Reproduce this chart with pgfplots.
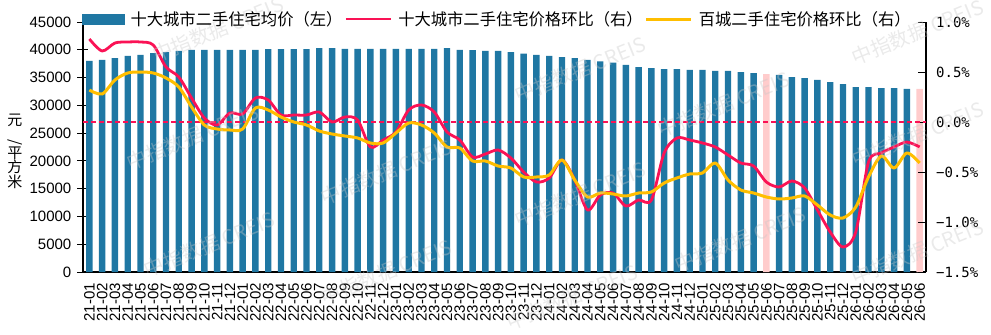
\documentclass[border=0pt]{standalone}
\usepackage{pgfplots}
\usepackage{pgfplotstable}
\pgfplotsset{compat=1.18}
\usepackage{graphicx}
\usepackage{fontspec}
\setmainfont{Liberation Sans}
\newfontfamily\cjk{Noto Sans CJK SC}
\newfontfamily\monofont{DejaVu Sans Mono}

\definecolor{barblue}{RGB}{31,119,163}
\definecolor{barpink}{RGB}{255,204,204}
\definecolor{linered}{RGB}{250,18,85}
\definecolor{lineyellow}{RGB}{255,190,0}
\definecolor{wmgray}{RGB}{200,200,200}

\tikzset{watermark/.style={rotate=22, text=wmgray, opacity=0.38,
    font=\cjk\fontsize{20bp}{20bp}\selectfont}}

% average second-hand price, ten cities (yuan per square metre)
\pgfplotstableread{
idx price
0 38000
1 38200
2 38500
3 38900
4 39100
5 39400
6 39600
7 39800
8 40000
9 40000
10 40000
11 40000
12 40000
13 40000
14 40100
15 40100
16 40100
17 40100
18 40300
19 40300
20 40150
21 40150
22 40150
23 40150
24 40150
25 40150
26 40150
27 40150
28 40300
29 40000
30 39950
31 39800
32 39800
33 39600
34 39300
35 39100
36 38900
37 38700
38 38500
39 38200
40 37900
41 37700
42 37300
43 36900
44 36700
45 36500
46 36500
47 36400
48 36400
49 36200
50 36200
51 36000
52 35800
54 35500
55 35100
56 34900
57 34600
58 34200
59 33800
60 33300
61 33300
62 33100
63 33100
64 32950
}\pricetable

% highlighted months (June 2025, June 2026)
\pgfplotstableread{
idx price
53 35600
65 32950
}\highlighttable

% month-on-month change (%), ten cities and hundred cities
\pgfplotstableread{
idx ten hundred
0 0.83 0.32
1 0.71 0.28
2 0.79 0.42
3 0.80 0.49
4 0.80 0.50
5 0.77 0.49
6 0.55 0.44
7 0.45 0.35
8 0.24 0.15
9 0.04 -0.03
10 -0.03 -0.07
11 0.09 -0.08
12 0.08 -0.07
13 0.24 0.14
14 0.22 0.12
15 0.07 0.05
16 0.07 0.00
17 0.07 -0.03
18 0.10 -0.09
19 0.00 -0.12
20 0.05 -0.14
21 0.02 -0.16
22 -0.25 -0.21
23 -0.18 -0.21
24 -0.10 -0.11
25 0.12 -0.01
26 0.17 -0.03
27 0.10 -0.11
28 -0.10 -0.25
29 -0.18 -0.26
30 -0.35 -0.39
31 -0.32 -0.39
32 -0.28 -0.44
33 -0.36 -0.46
34 -0.50 -0.55
35 -0.60 -0.55
36 -0.56 -0.53
37 -0.38 -0.38
38 -0.58 -0.58
39 -0.88 -0.75
40 -0.73 -0.71
41 -0.71 -0.72
42 -0.84 -0.74
43 -0.78 -0.71
44 -0.78 -0.70
45 -0.31 -0.61
46 -0.16 -0.56
47 -0.18 -0.52
48 -0.21 -0.51
49 -0.25 -0.41
50 -0.33 -0.58
51 -0.41 -0.68
52 -0.44 -0.71
53 -0.60 -0.75
54 -0.65 -0.77
55 -0.59 -0.76
56 -0.66 -0.74
57 -0.88 -0.83
58 -1.10 -0.93
59 -1.25 -0.96
60 -1.10 -0.85
61 -0.40 -0.55
62 -0.31 -0.34
63 -0.25 -0.46
64 -0.20 -0.31
65 -0.25 -0.41
}\momtable

\begin{document}
\begin{tikzpicture}
\pgfplotsset{
  common/.style={
    width=843bp, height=250bp, scale only axis,
    xmin=-0.5, xmax=65.5, clip mode=individual,
  },
}
% left axis: price bars
\begin{axis}[common, name=main,
  ymin=0, ymax=45000, ytick={0,5000,...,45000},
  scaled y ticks=false,
  axis x line*=bottom, axis y line*=left,
  axis line style={-, line width=1.1bp, black},
  xtick={0,...,65},
  xticklabels={21-01,21-02,21-03,21-04,21-05,21-06,21-07,21-08,21-09,21-10,21-11,21-12,
    22-01,22-02,22-03,22-04,22-05,22-06,22-07,22-08,22-09,22-10,22-11,22-12,
    23-01,23-02,23-03,23-04,23-05,23-06,23-07,23-08,23-09,23-10,23-11,23-12,
    24-01,24-02,24-03,24-04,24-05,24-06,24-07,24-08,24-09,24-10,24-11,24-12,
    25-01,25-02,25-03,25-04,25-05,25-06,25-07,25-08,25-09,25-10,25-11,25-12,
    26-01,26-02,26-03,26-04,26-05,26-06},
  xtick style={draw=none},
  minor xtick={-0.5,0.5,...,65.5},
  minor x tick style={black, line width=0.9bp},
  xtick align=inside, minor tick length=5bp,
  ytick align=center, major tick length=11bp,
  ytick style={black, line width=0.9bp},
  xticklabel style={font=\fontsize{15bp}{15bp}\selectfont, rotate=90, anchor=east, inner sep=0pt},
  xticklabel shift=11bp,
  yticklabel style={font=\fontsize{15bp}{15bp}\selectfont, inner sep=0pt,
    /pgf/number format/1000 sep={}, /pgf/number format/assume math mode=true},
  yticklabel shift=6bp,
]
\addplot[ybar, bar width=6.4bp, bar shift=0pt, fill=barblue, draw=none]
  table[x=idx, y=price] {\pricetable};
\addplot[ybar, bar width=6.4bp, bar shift=0pt, fill=barpink, draw=none]
  table[x=idx, y=price] {\highlighttable};
\end{axis}

% right axis: month-on-month change
\begin{axis}[common,
  ymin=-1.5, ymax=1.0, ytick={-1.5,-1.0,-0.5,0,0.5,1.0},
  yticklabels={−1.5\%,−1.0\%,−0.5\%,0.0\%,0.5\%,1.0\%},
  axis x line=none, axis y line*=right,
  axis line style={-, line width=1.1bp, black},
  ytick align=inside, major tick length=8bp,
  ytick style={black, line width=0.9bp},
  yticklabel style={font=\monofont\fontsize{14bp}{14bp}\selectfont, inner sep=0pt},
  yticklabel shift=10bp,
  legend columns=3,
  legend image code/.code={\draw[#1] (0bp,0bp) -- (45bp,0bp);},
  legend style={draw=none, fill=none, inner sep=0pt, nodes={inner sep=0pt},
    font=\cjk\fontsize{16.3bp}{16.3bp}\selectfont,
    at={(axis description cs:0,1)}, anchor=west, xshift=-1bp, yshift=3bp,
    cells={anchor=west},
    /tikz/every odd column/.style={column sep=6bp},
    /tikz/every even column/.style={column sep=2bp}},
]
\addlegendimage{legend image code/.code={\fill[barblue] (0bp,-5bp) rectangle (42bp,5bp);}}
\addlegendentry{十大城市二手住宅均价（左）}
\addplot[linered, line width=1.3bp, dash pattern=on 5bp off 3bp, forget plot]
  coordinates {(-0.5,0) (65.5,0)};
\addplot[linered, line width=2.8bp, smooth, line join=round]
  table[x=idx, y=ten] {\momtable};
\addlegendentry{十大城市二手住宅价格环比（右）}
\addplot[lineyellow, line width=3bp, smooth, line join=round]
  table[x=idx, y=hundred] {\momtable};
\addlegendentry{百城二手住宅价格环比（右）}

% faint publisher watermark
\node[watermark] at (axis description cs:0.16,0.97) {中指数据 CREIS};
\node[watermark] at (axis description cs:0.59,0.81) {中指数据 CREIS};
\node[watermark] at (axis description cs:0.99,0.96) {中指数据 CREIS};
\node[watermark] at (axis description cs:0.13,0.54) {中指数据 CREIS};
\node[watermark] at (axis description cs:0.36,0.40) {中指数据 CREIS};
\node[watermark] at (axis description cs:0.59,0.31) {中指数据 CREIS};
\node[watermark] at (axis description cs:0.76,0.67) {中指数据 CREIS};
\node[watermark] at (axis description cs:0.99,0.55) {中指数据 CREIS};
\node[watermark] at (axis description cs:0.15,0.11) {中指数据 CREIS};
\node[watermark] at (axis description cs:0.36,0.00) {中指数据 CREIS};
\node[watermark] at (axis description cs:0.58,-0.10) {中指数据 CREIS};
\node[watermark] at (axis description cs:0.78,0.13) {中指数据 CREIS};
\node[watermark] at (axis description cs:0.99,0.08) {中指数据 CREIS};
\end{axis}

% unit of the left axis, set upright one character per line
\node[font=\cjk\fontsize{15bp}{14.5bp}\selectfont, align=center, inner sep=0pt]
  at ([shift={(-68bp,121bp)}]main.south west)
  {元\\\rotatebox{-90}{/}\\平\\方\\米};

\pgfresetboundingbox
\path[use as bounding box] ([shift={(-83bp,-63bp)}]main.south west)
  rectangle ([shift={(65bp,22bp)}]main.north east);
\end{tikzpicture}
\end{document}
